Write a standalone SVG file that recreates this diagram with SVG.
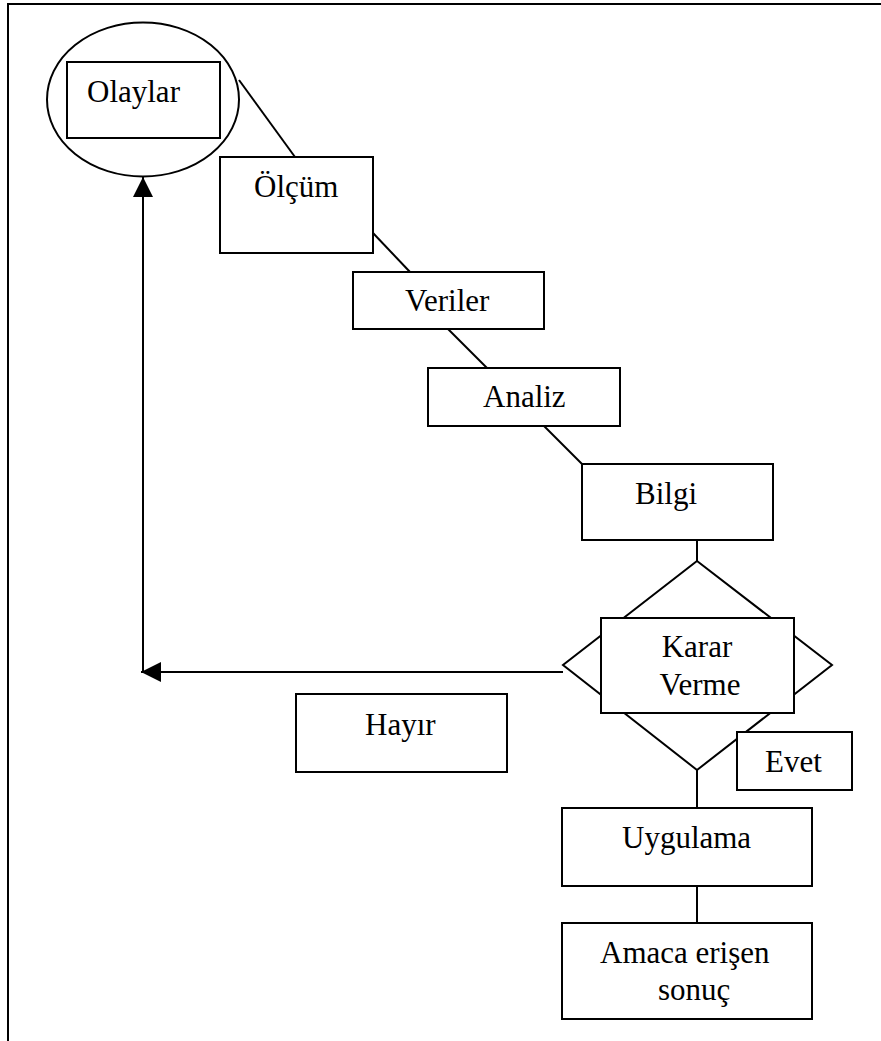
<svg xmlns="http://www.w3.org/2000/svg" width="881" height="1041" viewBox="0 0 881 1041">
<defs>
<style>
.box{fill:#fff;stroke:#000;stroke-width:2}
.ln{fill:none;stroke:#000;stroke-width:2}
.t{font-family:"Liberation Serif","Times New Roman",serif;font-size:31px;fill:#000}
</style>
<marker id="ah" markerUnits="userSpaceOnUse" markerWidth="22" markerHeight="22" refX="20" refY="10" orient="auto">
<path d="M0,0 L20,10 L0,20 Z" fill="#000"/>
</marker>
</defs>
<rect width="881" height="1041" fill="#fff"/>
<path class="ln" d="M8,1041 V4 H881" stroke-width="3"/>
<g id="connectors">
<line class="ln" x1="239" y1="80" x2="295" y2="157"/>
<line class="ln" x1="373" y1="233" x2="410" y2="272"/>
<line class="ln" x1="448" y1="329" x2="487" y2="368"/>
<line class="ln" x1="544" y1="426" x2="582" y2="464"/>
<line class="ln" x1="697" y1="540" x2="697" y2="561"/>
<line class="ln" x1="697" y1="770" x2="697" y2="808"/>
<line class="ln" x1="697" y1="886" x2="697" y2="923"/>
<line class="ln" x1="563" y1="672" x2="141" y2="672" marker-end="url(#ah)"/>
<line class="ln" x1="143" y1="673" x2="143" y2="177" marker-end="url(#ah)"/>
</g>
<g id="olaylar">
<ellipse class="ln" cx="143" cy="99.5" rx="96" ry="77"/>
<rect class="box" x="67" y="62" width="153" height="76"/>
<text class="t" x="87" y="102">Olaylar</text>
</g>
<g id="olcum">
<rect class="box" x="220" y="157" width="153" height="96"/>
<text class="t" x="254" y="197">Ölçüm</text>
</g>
<g id="veriler">
<rect class="box" x="353" y="272" width="191" height="57"/>
<text class="t" x="405" y="311">Veriler</text>
</g>
<g id="analiz">
<rect class="box" x="428" y="368" width="192" height="58"/>
<text class="t" x="483" y="407">Analiz</text>
</g>
<g id="bilgi">
<rect class="box" x="582" y="464" width="191" height="76"/>
<text class="t" x="635" y="504">Bilgi</text>
</g>
<g id="karar-verme">
<polygon class="ln" points="697,561 832,665 697,770 563,665"/>
<rect class="box" x="601" y="618" width="193" height="95"/>
<text class="t" x="697" y="657" text-anchor="middle">Karar</text>
<text class="t" x="700" y="695" text-anchor="middle">Verme</text>
</g>
<g id="hayir">
<rect class="box" x="296" y="694" width="211" height="78"/>
<text class="t" x="365" y="735">Hayır</text>
</g>
<g id="evet">
<rect class="box" x="737" y="732" width="115" height="58"/>
<text class="t" x="765" y="772">Evet</text>
</g>
<g id="uygulama">
<rect class="box" x="562" y="808" width="250" height="78"/>
<text class="t" x="622" y="848">Uygulama</text>
</g>
<g id="amaca">
<rect class="box" x="562" y="923" width="250" height="96"/>
<text class="t" x="600" y="963">Amaca erişen</text>
<text class="t" x="658" y="1000">sonuç</text>
</g>
</svg>
